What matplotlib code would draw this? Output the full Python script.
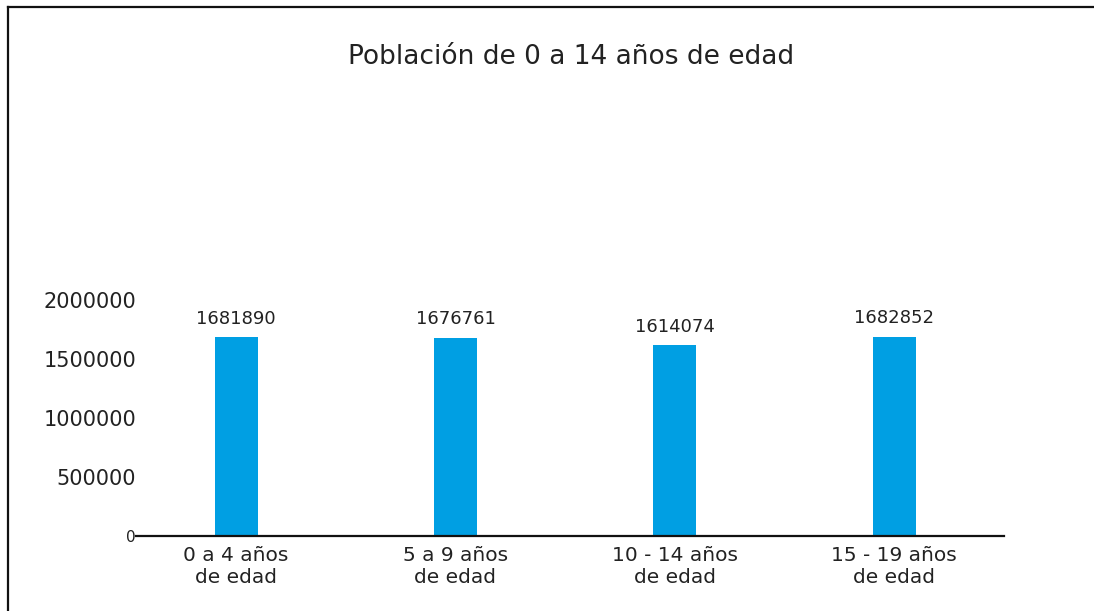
import matplotlib

matplotlib.use("Agg")
import matplotlib.pyplot as plt  # noqa: E402
from matplotlib.lines import Line2D  # noqa: E402

# data
grupos = ["0 a 4 años\nde edad", "5 a 9 años\nde edad", "10 - 14 años\nde edad", "15 - 19 años\nde edad"]
poblacion = [1681890, 1676761, 1614074, 1682852]
yticks = [0, 500000, 1000000, 1500000, 2000000]

W, H = 1094, 611
fig = plt.figure(figsize=(W / 100, H / 100), dpi=100)
fig.patch.set_facecolor("white")

# axes placed to match pixel layout (baseline y=536, x from 136 to 1004)
ax = fig.add_axes([136 / W, (H - 536) / H, (1004 - 136) / W, 260 / H])
x = range(len(grupos))
ax.bar(x, poblacion, width=0.196, color="#009fe3", zorder=2)
ax.set_xlim(-0.456, 3.5)
ax.set_ylim(0, 2200000)

for xi, v in zip(x, poblacion):
    ax.annotate(str(v), (xi, v), xytext=(0, 7), textcoords="offset points",
                ha="center", va="bottom", fontsize=13, color="#222222")

ax.set_xticks(list(x))
ax.set_xticklabels(grupos, fontsize=14.5, color="#222222", linespacing=1.25)
ax.set_yticks(yticks)
ax.set_yticklabels([str(t) for t in yticks], fontsize=15, color="#222222")
ax.get_yticklabels()[0].set_fontsize(11)
ax.get_yticklabels()[0].set_y(8000)
ax.tick_params(axis="x", length=0, pad=7)
ax.tick_params(axis="y", length=0, pad=0)
for s in ("top", "right", "left"):
    ax.spines[s].set_visible(False)
ax.spines["bottom"].set_linewidth(1.6)
ax.spines["bottom"].set_color("#111111")

fig.text(571 / W, 1 - 57 / H, "Población de 0 a 14 años de edad",
         ha="center", va="center", fontsize=19, color="#222222")

# frame lines (top and left only)
fig.add_artist(Line2D([8 / W, 8 / W], [0, 1 - 7 / H], transform=fig.transFigure,
                      color="#111111", lw=1.6))
fig.add_artist(Line2D([8 / W, 1], [1 - 7 / H, 1 - 7 / H], transform=fig.transFigure,
                      color="#111111", lw=1.6))

fig.savefig("out.png", dpi=100, facecolor="white")
